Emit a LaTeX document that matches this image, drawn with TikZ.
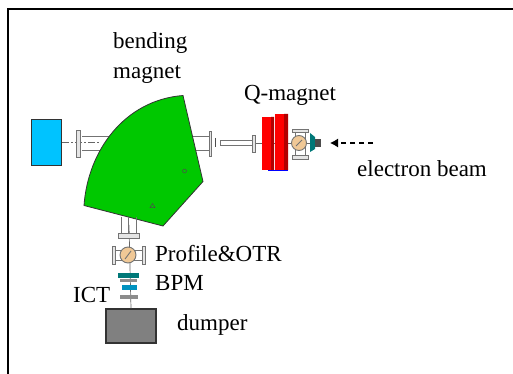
\documentclass[tikz,border=0pt]{standalone}
\usepackage{fontspec}
\setmainfont{Liberation Serif}
\usetikzlibrary{arrows.meta,positioning}
\definecolor{magnetgreen}{RGB}{0,200,0}
\definecolor{screenblue}{RGB}{0,195,255}
\definecolor{crosstan}{RGB}{240,200,150}
\definecolor{ductteal}{RGB}{0,120,120}
\begin{document}
\begin{tikzpicture}[x=1pt,y=-1pt]
  \tikzset{
    label/.style={inner sep=0pt, font=\fontsize{23}{23}\selectfont},
    block/.style={draw=black!80, line width=1.2pt, inner sep=0pt},
    flange/.style={draw=black!55, fill=black!10, line width=0.9pt},
    tube/.style={draw=black!55, line width=0.9pt},
    beamaxis/.style={draw=black!60, line width=0.7pt},
    myarrow/.style={-{Latex[length=8pt,width=9pt]}, line width=1.1pt, dash pattern=on 5pt off 4pt},
  }
  \useasboundingbox (0,0) rectangle (513,374);
  \draw[line width=2pt] (8,374) -- (8,9) -- (513,9);

  % boxes at the ends of the beam lines
  \node[block, fill=screenblue, minimum width=30pt, minimum height=46pt] (screen) at (46.5,142.5) {};
  \node[block, fill=black!50, minimum width=50pt, minimum height=34pt] (dumper) at (131,326) {};
  \coordinate (leftend) at (100,142.5);
  \coordinate (rightend) at (321,143);
  \coordinate (bendout) at (129,225);
  \draw[beamaxis, dash pattern=on 7pt off 2pt on 2pt off 2pt] (screen.east) -- (leftend);
  \draw[beamaxis] (bendout) -- (dumper.north);
  \draw[beamaxis] (255,143) -- (rightend);

  % left and right pipes of the bending magnet
  \draw[tube] (82,136) -- (112,136) (82,150) -- (100,150);
  \draw[tube] (185,136) -- (210,136) (190,150) -- (210,150);
  \draw[flange] (76.5,130) rectangle (80,157);
  \draw[flange] (209,131) rectangle (211.5,156);
  \draw[black!70, line width=1pt] (215,138) -- (215,147);
  \draw[tube, fill=white] (220,140.5) rectangle (252,145.5);
  \draw[flange] (252,135) rectangle (255,152);

  % bending magnet
  \draw[fill=magnetgreen, draw=black!80, line width=0.8pt] (84,205.5) .. controls (88,150) and (125,100) .. (183,95.5)
    -- (203,181.5) -- (163,226) -- cycle;
  \draw[black!70, line width=0.5pt] (184.5,171) circle (2pt);
  \draw[black!70, line width=0.5pt] (150,207.5) -- (152.5,203.5) -- (155,207.5) -- cycle;

  % Q-magnet
  \fill[red] (262,117) rectangle (274,170);
  \fill[red] (275,114) rectangle (288,170);
  \fill[red!70!black] (271,117) rectangle (274,170) (284,114) rectangle (288,170);
  \draw[blue, line width=1.2pt] (268,170.5) -- (288,170.5);

  % cross and duct after the Q-magnet
  \draw[flange] (292,129) rectangle (308,132);
  \draw[flange] (292,155) rectangle (308,159);
  \draw[tube] (295,132) -- (295,155) (305,132) -- (305,155);
  \draw[tube, fill=crosstan] (299,143) circle (7.5pt);
  \draw[tube] (296,146) -- (302,140);
  \fill[ductteal] (310,133) -- (315,137) -- (315,149) -- (310,152) -- cycle;
  \fill[black!70] (315,139) rectangle (321,147);

  % line down to the dumper
  \draw[tube] (121,217) -- (121,233) (136,217) -- (136,233);
  \draw[tube] (128,217) -- (128,233);
  \draw[flange] (118,233) rectangle (139,238);
  \draw[flange] (112,246) rectangle (115,264);
  \draw[flange] (142,246) rectangle (145,264);
  \draw[tube] (115,250) -- (142,250) (115,260) -- (142,260);
  \draw[tube, fill=crosstan] (128,255) circle (8pt);
  \draw[tube] (125,259) -- (131,251);
  \fill[ductteal] (118,273) rectangle (139,278);
  \fill[black!45] (120,279) rectangle (137,282);
  \fill[screenblue!75!black] (122,285) rectangle (137,290);
  \fill[black!45] (120,295) rectangle (138,299);

  % labels
  \node[label, anchor=west] (bendlabel) at (113,43) {bending};
  \node[label, anchor=west] (magnetlabel) at (113,75) {magnet};
  \node[label] (qlabel) at (290,95) {Q-magnet};
  \node[label, anchor=west] (beamlabel) at (357,169) {electron beam};
  \node[label, anchor=west] (otrlabel) at (155,254) {Profile\&OTR};
  \node[label, anchor=west] (bpmlabel) at (155,283) {BPM};
  \node[label, anchor=west] (ictlabel) at (73,295) {ICT};
  \node[label, anchor=west] (dumperlabel) at (177,325) {dumper};

  \coordinate (beamstart) at (373,143);
  \coordinate (beamend) at (330,143);
  \draw[myarrow] (beamstart) -- (beamend);
\end{tikzpicture}
\end{document}
